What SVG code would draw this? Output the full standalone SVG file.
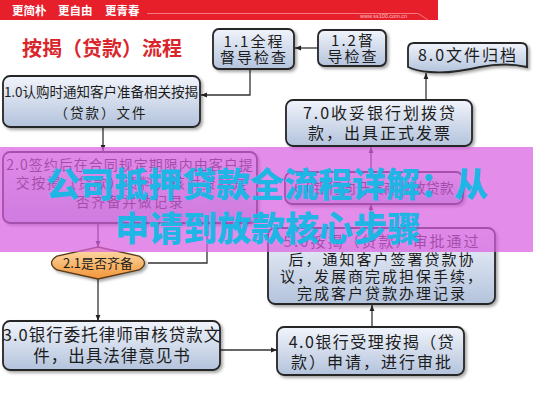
<svg xmlns="http://www.w3.org/2000/svg" width="533" height="400" viewBox="0 0 533 400">
<defs>
<linearGradient id="gBox" x1="0" y1="0" x2="0" y2="1">
<stop offset="0" stop-color="#f1f4fb"/>
<stop offset="1" stop-color="#b3c3dc"/>
</linearGradient>
<linearGradient id="gOr" x1="0" y1="0" x2="0" y2="1">
<stop offset="0" stop-color="#fde0b0"/>
<stop offset="1" stop-color="#f39436"/>
</linearGradient>
<filter id="sh" x="-10%" y="-10%" width="130%" height="140%">
<feDropShadow dx="2" dy="2" stdDeviation="1.5" flood-color="#000" flood-opacity="0.35"/>
</filter>
<marker id="ah" viewBox="0 0 10 10" refX="10" refY="5" markerWidth="6" markerHeight="6" orient="auto" markerUnits="userSpaceOnUse">
<path d="M0,1 L10,5 L0,9 Z" fill="#222"/>
</marker>
<style>
.box{fill:url(#gBox);stroke:#262626;stroke-width:1.8;filter:url(#sh)}
.t{font-family:"Noto Sans CJK SC","Noto Sans",sans-serif;fill:#1c1c1c;text-anchor:middle}
.ln{fill:none;stroke:#333;stroke-width:1.3}
.hd{font-family:"Noto Sans CJK SC","Noto Sans",sans-serif;fill:#fff;font-size:11.5px;font-weight:bold}
.big{font-family:"Noto Sans CJK SC","Noto Sans",sans-serif;font-weight:900;font-size:34px;fill:#1fb6e6;text-anchor:middle}
</style>
</defs>
<rect width="533" height="400" fill="#fff"/>
<g id="header">
<rect x="0" y="0" width="438" height="20" fill="#e61f2b"/>
<text class="hd" x="12" y="15">更简朴</text>
<text class="hd" x="58" y="15">更自由</text>
<text class="hd" x="105" y="15">更青春</text>
<path d="M147,13.5 L418,13.5 L428,20" fill="none" stroke="#f6a0a5" stroke-width="0.7"/>
<text x="360" y="18" font-family="Liberation Sans, sans-serif" font-size="5.5" fill="#f7c4c6">www.ss100.com.cn</text>
</g>
<text id="title" x="22" y="56" font-family="'Noto Sans CJK SC',sans-serif" font-size="20" font-weight="bold" fill="#d9262c">按揭（贷款）流程</text>
<g id="connectors">
<line class="ln" x1="318" y1="48" x2="295" y2="48" marker-end="url(#ah)"/>
<polyline class="ln" points="250,70 250,95 201,95" marker-end="url(#ah)"/>
<line class="ln" x1="103" y1="128" x2="103" y2="151" marker-end="url(#ah)"/>
<line class="ln" x1="98" y1="223" x2="98" y2="247" marker-end="url(#ah)"/>
<polyline class="ln" points="148,263 207,263 207,223"/>
<line class="ln" x1="98" y1="279" x2="98" y2="321" marker-end="url(#ah)"/>
<line class="ln" x1="220" y1="350" x2="277" y2="350" marker-end="url(#ah)"/>
<line class="ln" x1="372" y1="327" x2="372" y2="305" marker-end="url(#ah)"/>
<line class="ln" x1="371" y1="228" x2="371" y2="204" marker-end="url(#ah)"/>
<line class="ln" x1="371" y1="172" x2="371" y2="147" marker-end="url(#ah)"/>
<line class="ln" x1="426" y1="100" x2="426" y2="73" marker-end="url(#ah)"/>
</g>
<g id="n11">
<rect class="box" x="213" y="29" width="81" height="40" rx="6"/>
<text class="t" x="254" y="47" font-size="15" letter-spacing="2">1.1全程</text>
<text class="t" x="254" y="63" font-size="15" letter-spacing="2">督导检查</text>
</g>
<g id="n12">
<rect class="box" x="318" y="30" width="68" height="36" rx="6"/>
<text class="t" x="353" y="46" font-size="15" letter-spacing="2">1.2督</text>
<text class="t" x="353" y="62" font-size="15" letter-spacing="2">导检查</text>
</g>
<g id="n80">
<path class="box" d="M408,49 Q408,43 414,43 L521,43 Q527,43 527,49 L527,67 Q505,62 480,67 Q450,74 430,72 Q416,71 408,67 Z"/>
<text class="t" x="468" y="61" font-size="16" letter-spacing="2">8.0文件归档</text>
</g>
<g id="n10">
<rect class="box" x="3" y="76" width="197" height="51" rx="7"/>
<text class="t" x="101" y="97" font-size="13.5">1.0认购时通知客户准备相关按揭</text>
<text class="t" x="101" y="118" font-size="13.5" letter-spacing="2">（贷款）文件</text>
</g>
<g id="n70">
<rect class="box" x="286" y="100" width="186" height="46" rx="7"/>
<text class="t" x="380" y="119" font-size="16" letter-spacing="2">7.0收妥银行划拨贷</text>
<text class="t" x="380" y="139" font-size="16" letter-spacing="2">款，出具正式发票</text>
</g>
<g id="n20">
<rect class="box" x="3" y="152" width="254" height="71" rx="7"/>
<text class="t" x="130" y="170" font-size="14" letter-spacing="1">2.0签约后在合同规定期限内由客户提</text>
<text class="t" x="132" y="188" font-size="14" letter-spacing="1.5">交按揭（贷款）资料，核对资料是</text>
<text class="t" x="130" y="207" font-size="14" letter-spacing="1.5">否齐备并做记录</text>
</g>
<g id="n60">
<rect class="box" x="285" y="172" width="178" height="32" rx="7"/>
<text class="t" x="374" y="193" font-size="14">6.0银行向开发商发放贷款</text>
</g>
<g id="n21">
<path d="M98,247 L139,256 Q150,263 139,270 L98,279 L57,270 Q46,263 57,256 Z" fill="url(#gOr)" stroke="#5a3a1a" stroke-width="1.3" filter="url(#sh)"/>
<text class="t" x="98" y="268" font-size="13">2.1是否齐备</text>
</g>
<g id="n50">
<rect class="box" x="268" y="228" width="227" height="76" rx="7"/>
<text class="t" x="382" y="247" font-size="15" letter-spacing="2">5.0按揭（贷款）审批通过</text>
<text class="t" x="382" y="265" font-size="15" letter-spacing="2">后，通知客户签署贷款协</text>
<text class="t" x="382" y="282" font-size="15" letter-spacing="2">议，发展商完成担保手续，</text>
<text class="t" x="382" y="299" font-size="15" letter-spacing="2">完成客户贷款办理记录</text>
</g>
<g id="n40">
<rect class="box" x="277" y="327" width="187" height="48" rx="7"/>
<text class="t" x="372" y="348" font-size="16" letter-spacing="1.5">4.0银行受理按揭（贷</text>
<text class="t" x="372" y="368" font-size="16" letter-spacing="2">款）申请，进行审批</text>
</g>
<g id="n30">
<rect class="box" x="3" y="321" width="217" height="49" rx="7"/>
<text class="t" x="112" y="341" font-size="16.5" letter-spacing="1">3.0银行委托律师审核贷款文</text>
<text class="t" x="112" y="362" font-size="16.5" letter-spacing="1">件，出具法律意见书</text>
</g>
<g id="overlay">
<rect x="0" y="147" width="533" height="105" fill="#d95fe0" fill-opacity="0.72"/>
<text class="big" x="267" y="197">公司抵押贷款全流程详解：从</text>
<text class="big" x="268" y="241">申请到放款核心步骤</text>
</g>
</svg>
